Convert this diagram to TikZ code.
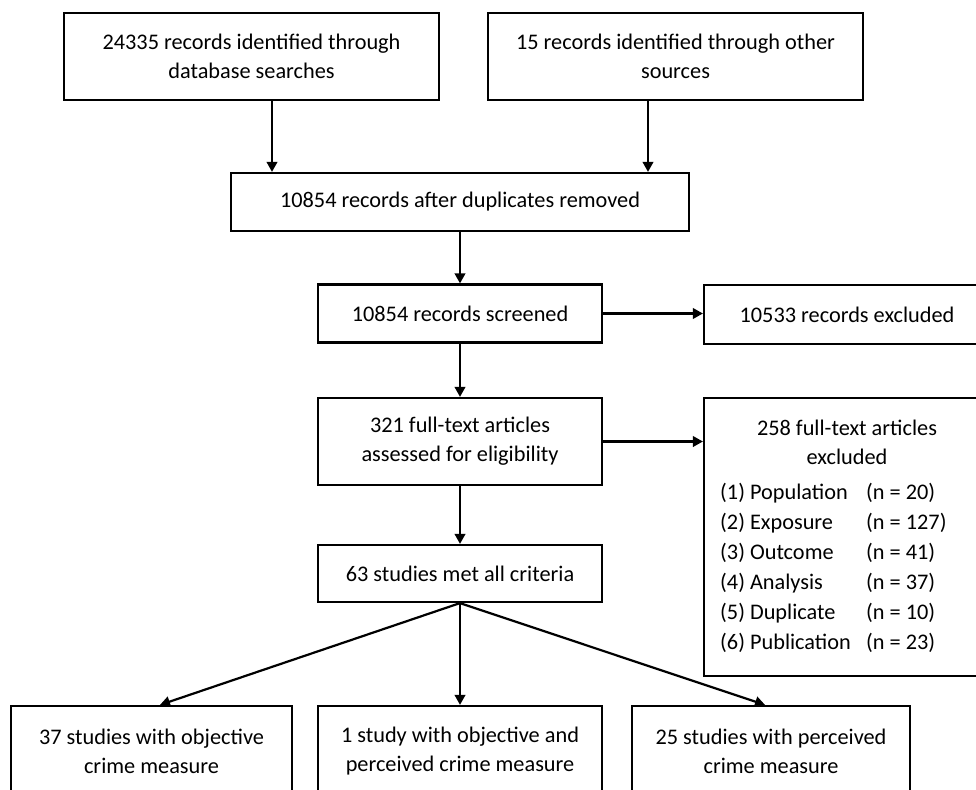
\documentclass[tikz,border=0pt]{standalone}
\usepackage{fontspec}
\setmainfont{Carlito}
\usetikzlibrary{arrows.meta}
\begin{document}
\begin{tikzpicture}[x=1pt,y=-1pt,
  box/.style={draw, line width=2.2pt, inner sep=0pt, align=center, font=\fontsize{22.3}{29}\selectfont},
  txt/.style={inner sep=0pt, font=\fontsize{22.3}{29}\selectfont},
  arr/.style={line width=2.2pt, -{Triangle[length=10pt,width=10.5pt]}}]
\useasboundingbox (0,0) rectangle (976,789);
\clip (0,0) rectangle (976,789);
\fill[white] (0,0) rectangle (976,789);
% boxes
\node[box, minimum width=375pt, minimum height=87pt] (A) at (251.5,56.5) {24335 records identified through\\database searches};
\node[box, minimum width=375pt, minimum height=87pt] (B) at (675.5,56.5) {15 records identified through other\\sources};
\node[box, minimum width=458pt, minimum height=58pt] (C) at (460,202) {10854 records after duplicates removed};
\node[box, minimum width=284pt, minimum height=58pt] (D) at (460,313.5) {10854 records screened};
\node[box, minimum width=286pt, minimum height=59pt] (E) at (847,314.5) {10533 records excluded};
\node[box, minimum width=284pt, minimum height=87pt] (F) at (460,441.5) {321 full-text articles\\assessed for eligibility};
\node[box, minimum width=286pt, minimum height=278pt] (G) at (847,537) {};
\node[txt, align=center] (Gt) at (847,442.5) {258 full-text articles\\excluded};
\node[txt, align=left, anchor=west, font=\fontsize{22.3}{30}\selectfont] (Gl) at (720,568) {%
\makebox[146pt][l]{(1) Population}(n = 20)\\
\makebox[146pt][l]{(2) Exposure}(n = 127)\\
\makebox[146pt][l]{(3) Outcome}(n = 41)\\
\makebox[146pt][l]{(4) Analysis}(n = 37)\\
\makebox[146pt][l]{(5) Duplicate}(n = 10)\\
\makebox[146pt][l]{(6) Publication}(n = 23)};
\node[box, minimum width=284pt, minimum height=57pt] (H) at (460,573.5) {63 studies met all criteria};
\node[box, minimum width=281pt, minimum height=90pt] (L) at (151.5,751) {37 studies with objective\\crime measure};
\node[box, minimum width=284pt, minimum height=90pt] (M) at (460,751) {1 study with objective and\\perceived crime measure};
\node[box, minimum width=278pt, minimum height=90pt] (R) at (771,751) {25 studies with perceived\\crime measure};
% arrow x positions
\coordinate (a1) at (272,0);
\coordinate (a2) at (648,0);
\coordinate (l1) at (160,0);
\coordinate (r1) at (765,0);
% connectors
\draw[arr] (A.south -| a1) -- (C.north -| a1);
\draw[arr] (B.south -| a2) -- (C.north -| a2);
\draw[arr] (C.south) -- (D.north);
\draw[arr] (D.east) -- (D.east -| E.west);
\draw[arr] (D.south) -- (F.north);
\draw[arr] (F.east) -- (F.east -| G.west);
\draw[arr] (F.south) -- (H.north);
\draw[arr] (H.south) -- (L.north -| l1);
\draw[arr] (H.south) -- (M.north);
\draw[arr] (H.south) -- (R.north -| r1);
\end{tikzpicture}
\end{document}
